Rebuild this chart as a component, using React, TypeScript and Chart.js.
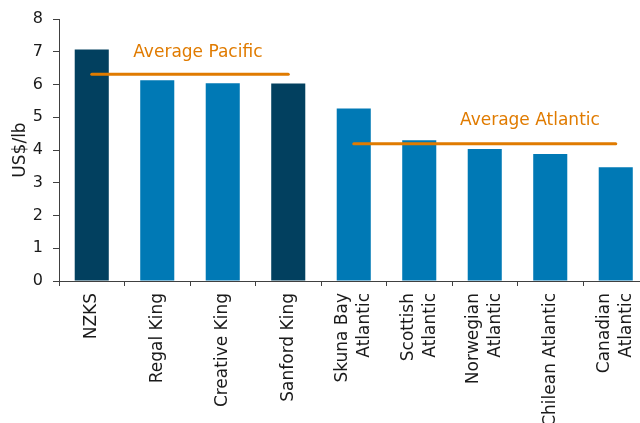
import React, { useEffect, useRef } from "react";
import { Chart, registerables } from "chart.js";

Chart.register(...registerables);

const categories: (string | string[])[] = [
  "NZKS",
  "Regal King",
  "Creative King",
  "Sanford King",
  ["Skuna Bay", "Atlantic"],
  ["Scottish", "Atlantic"],
  ["Norwegian", "Atlantic"],
  "Chilean Atlantic",
  ["Canadian", "Atlantic"],
];
const prices = [7.07, 6.13, 6.04, 6.03, 5.27, 4.3, 4.03, 3.88, 3.47];
const isSanford = [true, false, false, true, false, false, false, false, false];
const averagePacific = [6.31, 6.31, 6.31, 6.31, null, null, null, null, null];
const averageAtlantic = [null, null, null, null, 4.19, 4.19, 4.19, 4.19, 4.19];
const yTicks = [0, 1, 2, 3, 4, 5, 6, 7, 8];
const annotationLabels = ["Average Pacific", "Average Atlantic"];
const annotationX = [1.62, 6.69];
const annotationY = [6.97, 4.89];

const DARK = "#02405f";
const BLUE = "#0079b5";
const ORANGE = "#e07b00";
const TEXT = "#1a1a1a";
const AXIS = "#404040";
const FONT = "'DejaVu Sans', Verdana, sans-serif";

const W = 660;
const H = 440;
const X_FONT_SIZE = 17;
const X_LINE_HEIGHT = 1.3;

export default function App() {
  const ref = useRef<HTMLCanvasElement | null>(null);

  useEffect(() => {
    if (!ref.current) return;
    const annotationPlugin = {
      id: "avgLabels",
      afterDatasetsDraw(chart: any) {
        const { ctx, scales } = chart;
        ctx.save();
        ctx.fillStyle = ORANGE;
        ctx.font = `17px ${FONT}`;
        ctx.textAlign = "center";
        ctx.textBaseline = "middle";
        annotationLabels.forEach((t, i) => {
          const x = scales.x.getPixelForValue(annotationX[i]);
          const y = scales.y.getPixelForValue(annotationY[i]);
          ctx.fillText(t, x, y);
        });
        ctx.restore();
      },
    };

    // Center multi-line rotated category labels on their tick.
    const centerLabelsPlugin = {
      id: "centerMultiline",
      beforeDraw(chart: any) {
        const scale = chart.scales.x;
        if (!scale || !scale.getLabelItems) return;
        const items = scale.getLabelItems(chart.chartArea);
        const lh = X_FONT_SIZE * X_LINE_HEIGHT;
        items.forEach((item: any) => {
          if (Array.isArray(item.label) && !item._centered) {
            const n = item.label.length;
            item.textOffset = item.textOffset - ((n - 1) * lh) / 2;
            item._centered = true;
          }
        });
      },
    };

    const chart = new Chart(ref.current, {
      type: "bar",
      data: {
        labels: categories as any,
        datasets: [
          {
            type: "line",
            data: averagePacific as any,
            borderColor: ORANGE,
            borderWidth: 3,
            borderCapStyle: "round",
            pointRadius: 0,
            spanGaps: false,
            order: 0,
          } as any,
          {
            type: "line",
            data: averageAtlantic as any,
            borderColor: ORANGE,
            borderWidth: 3,
            borderCapStyle: "round",
            pointRadius: 0,
            spanGaps: false,
            order: 0,
          } as any,
          {
            type: "bar",
            data: prices,
            backgroundColor: isSanford.map((d) => (d ? DARK : BLUE)),
            barPercentage: 0.52,
            categoryPercentage: 1,
            order: 1,
          },
        ],
      },
      options: {
        responsive: false,
        animation: false,
        layout: { padding: { top: 19, right: 11.5, left: 0, bottom: 0 } },
        plugins: {
          legend: { display: false },
          tooltip: { enabled: false },
        },
        scales: {
          x: {
            grid: {
              offset: true,
              drawOnChartArea: false,
              drawTicks: true,
              tickLength: 5,
              color: AXIS,
            },
            border: { color: AXIS, width: 1 },
            ticks: {
              color: TEXT,
              font: { family: FONT, size: X_FONT_SIZE, lineHeight: X_LINE_HEIGHT },
              minRotation: 90,
              maxRotation: 90,
              padding: 7,
              autoSkip: false,
            },
            afterFit(scale: any) {
              scale.height = H - 281;
              scale.paddingLeft = 0;
              scale.paddingRight = 0;
            },
          },
          y: {
            min: 0,
            max: 8,
            afterBuildTicks(scale: any) {
              scale.ticks = yTicks.map((v) => ({ value: v }));
            },
            grid: {
              drawOnChartArea: false,
              drawTicks: true,
              tickLength: 6,
              color: AXIS,
            },
            border: { color: AXIS, width: 1 },
            ticks: {
              color: TEXT,
              font: { family: FONT, size: 16 },
              padding: 10,
            },
            title: {
              display: true,
              text: "US$/lb",
              color: TEXT,
              font: { family: FONT, size: 17 },
              padding: { top: 10, bottom: 0 },
            },
            afterFit(scale: any) {
              scale.width = 59;
              scale.paddingTop = 0;
              scale.paddingBottom = 0;
            },
          },
        },
      },
      plugins: [annotationPlugin, centerLabelsPlugin],
    });
    return () => chart.destroy();
  }, []);

  return (
    <div style={{ position: "absolute", left: 0, top: 0, width: W, height: H, background: "#fff" }}>
      <canvas ref={ref} width={W} height={H} style={{ width: W, height: H }} />
    </div>
  );
}
